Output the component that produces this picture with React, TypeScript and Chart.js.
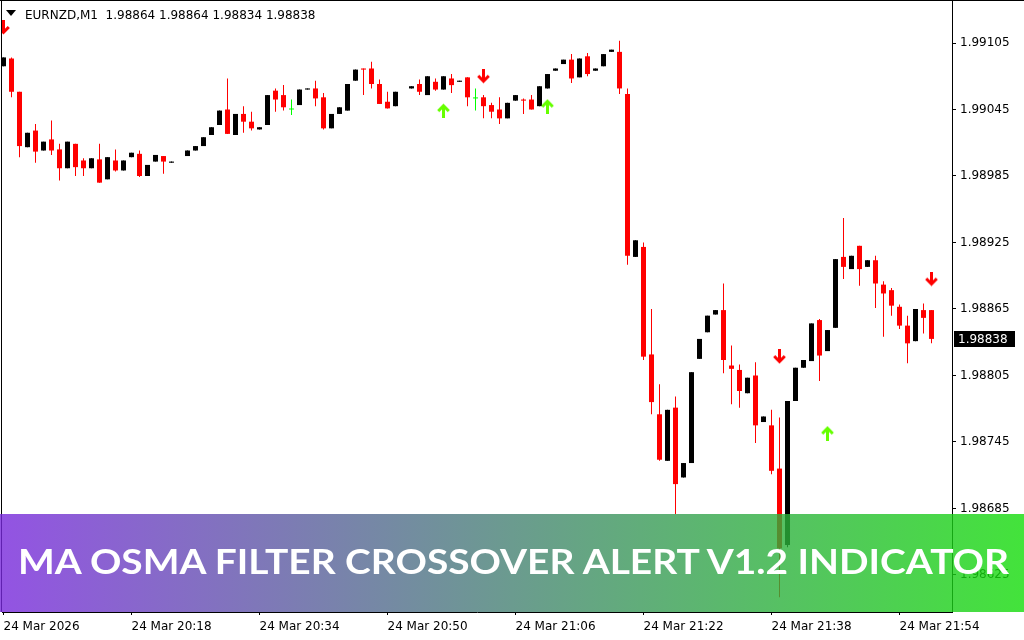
import React, { useEffect, useRef } from 'react';
import { Chart, registerables } from 'chart.js';

Chart.register(...registerables);

const symbolTitle = 'EURNZD,M1';
const headerValues = ['1.98864', '1.98864', '1.98834', '1.98838'];
const bannerText = 'MA OSMA FILTER CROSSOVER ALERT V1.2 INDICATOR';

const xTickIndex = [0, 16, 32, 48, 64, 80, 96, 112];
const xTickLabels = ['24 Mar 2026', '24 Mar 20:18', '24 Mar 20:34', '24 Mar 20:50', '24 Mar 21:06', '24 Mar 21:22', '24 Mar 21:38', '24 Mar 21:54'];
const yTicks = [1.99105, 1.99045, 1.98985, 1.98925, 1.98865, 1.98805, 1.98745, 1.98685, 1.98625];

const opens: (number | null)[] = [
  1.99084, 1.99091, 1.99061, 1.99011, 1.99026, 1.99008, 1.99018, 1.99009, 1.98992, 1.99014,
  1.98999, 1.98992, 1.99000, 1.98982, 1.98999, 1.98990, 1.99002, 1.99005, 1.98985, 1.98998,
  1.99003, 1.98997, null, 1.99003, 1.99008, 1.99012, 1.99022, 1.99031, 1.99045, 1.99022,
  1.99041, 1.99034, 1.99027, 1.99031, 1.99062, 1.99058, 1.99045, 1.99049, 1.99063, 1.99064,
  1.99056, 1.99028, 1.99041, 1.99044, 1.99071, 1.99082, 1.99082, 1.99068, 1.99052, 1.99048,
  null, 1.99064, 1.99068, 1.99058, 1.99070, 1.99063, 1.99073, 1.99070, 1.99074, 1.99055,
  1.99056, 1.99049, 1.99045, 1.99037, 1.99053, 1.99054, 1.99054, 1.99048, 1.99064, 1.99080,
  1.99086, 1.99090, 1.99074, 1.99093, 1.99080, 1.99084, 1.99097, 1.99097, 1.99059, 1.98912,
  1.98921, 1.98824, 1.98770, 1.98728, 1.98776, 1.98713, 1.98726, 1.98820, 1.98844, 1.98860,
  1.98864, 1.98814, 1.98810, 1.98789, 1.98805, 1.98763, 1.98760, 1.98721, 1.98652, 1.98782,
  1.98812, 1.98818, 1.98855, 1.98827, 1.98848, 1.98912, 1.98901, 1.98922, 1.98903, 1.98909,
  1.98887, 1.98882, 1.98867, 1.98850, 1.98836, 1.98864, 1.98864,
];
const highs: (number | null)[] = [
  1.99092, 1.99092, 1.99061, 1.99024, 1.99032, 1.99016, 1.99035, 1.99014, 1.99016, 1.99014,
  1.99001, 1.99001, 1.99014, 1.99002, 1.99009, 1.98999, 1.99006, 1.99008, 1.98995, 1.99004,
  1.99003, 1.98998, null, 1.99008, 1.99012, 1.99020, 1.99029, 1.99044, 1.99073, 1.99041,
  1.99048, 1.99043, 1.99029, 1.99058, 1.99064, 1.99067, 1.99054, 1.99063, 1.99064, 1.99071,
  1.99060, 1.99041, 1.99047, 1.99068, 1.99081, 1.99082, 1.99088, 1.99072, 1.99061, 1.99061,
  null, 1.99066, 1.99072, 1.99075, 1.99073, 1.99075, 1.99077, 1.99071, 1.99074, 1.99064,
  1.99058, 1.99051, 1.99056, 1.99051, 1.99058, 1.99055, 1.99058, 1.99066, 1.99077, 1.99082,
  1.99090, 1.99095, 1.99091, 1.99096, 1.99082, 1.99095, 1.99099, 1.99107, 1.99064, 1.98927,
  1.98925, 1.98865, 1.98797, 1.98774, 1.98786, 1.98726, 1.98808, 1.98838, 1.98859, 1.98864,
  1.98888, 1.98832, 1.98815, 1.98803, 1.98817, 1.98768, 1.98774, 1.98767, 1.98782, 1.98812,
  1.98819, 1.98852, 1.98856, 1.98846, 1.98910, 1.98947, 1.98913, 1.98922, 1.98909, 1.98913,
  1.98890, 1.98884, 1.98869, 1.98859, 1.98865, 1.98870, 1.98864,
];
const lows: (number | null)[] = [
  1.99084, 1.99056, 1.99002, 1.99011, 1.98997, 1.99008, 1.99004, 1.98981, 1.98992, 1.98985,
  1.98985, 1.98992, 1.98979, 1.98982, 1.98989, 1.98990, 1.99002, 1.98984, 1.98985, 1.98998,
  1.98987, 1.98997, null, 1.99003, 1.99008, 1.99012, 1.99022, 1.99031, 1.99023, 1.99022,
  1.99024, 1.99026, 1.99027, 1.99031, 1.99043, 1.99044, 1.99040, 1.99049, 1.99063, 1.99048,
  1.99027, 1.99028, 1.99041, 1.99044, 1.99071, 1.99058, 1.99064, 1.99050, 1.99046, 1.99048,
  null, 1.99064, 1.99058, 1.99058, 1.99062, 1.99063, 1.99060, 1.99070, 1.99048, 1.99044,
  1.99037, 1.99037, 1.99032, 1.99037, 1.99053, 1.99041, 1.99045, 1.99048, 1.99064, 1.99080,
  1.99086, 1.99069, 1.99074, 1.99075, 1.99080, 1.99084, 1.99097, 1.99059, 1.98905, 1.98912,
  1.98819, 1.98770, 1.98728, 1.98728, 1.98680, 1.98713, 1.98726, 1.98820, 1.98844, 1.98860,
  1.98807, 1.98779, 1.98776, 1.98789, 1.98744, 1.98763, 1.98716, 1.98605, 1.98650, 1.98782,
  1.98812, 1.98818, 1.98800, 1.98827, 1.98848, 1.98892, 1.98901, 1.98886, 1.98903, 1.98866,
  1.98840, 1.98859, 1.98847, 1.98816, 1.98836, 1.98843, 1.98834,
];
const closes: (number | null)[] = [
  1.99092, 1.99061, 1.99012, 1.99024, 1.99007, 1.99016, 1.99008, 1.98992, 1.99016, 1.98993,
  1.98992, 1.99001, 1.98979, 1.99002, 1.98990, 1.98999, 1.99006, 1.98985, 1.98995, 1.99004,
  1.98998, 1.98998, null, 1.99008, 1.99012, 1.99020, 1.99029, 1.99044, 1.99023, 1.99041,
  1.99034, 1.99028, 1.99029, 1.99058, 1.99054, 1.99047, 1.99045, 1.99063, 1.99064, 1.99055,
  1.99028, 1.99041, 1.99047, 1.99068, 1.99081, 1.99081, 1.99068, 1.99050, 1.99046, 1.99061,
  null, 1.99066, 1.99061, 1.99075, 1.99063, 1.99075, 1.99067, 1.99071, 1.99056, 1.99055,
  1.99048, 1.99043, 1.99037, 1.99051, 1.99058, 1.99053, 1.99045, 1.99066, 1.99077, 1.99082,
  1.99090, 1.99073, 1.99091, 1.99077, 1.99082, 1.99095, 1.99099, 1.99064, 1.98913, 1.98927,
  1.98822, 1.98781, 1.98729, 1.98774, 1.98707, 1.98726, 1.98808, 1.98838, 1.98859, 1.98864,
  1.98819, 1.98811, 1.98791, 1.98803, 1.98760, 1.98768, 1.98719, 1.98649, 1.98782, 1.98812,
  1.98819, 1.98852, 1.98823, 1.98846, 1.98910, 1.98903, 1.98913, 1.98901, 1.98909, 1.98888,
  1.98879, 1.98868, 1.98850, 1.98834, 1.98865, 1.98857, 1.98838,
];

const downArrowIndex = [0, 60, 97, 116];
const downArrowPrice = [1.99119, 1.99075, 1.98822, 1.98892];
const upArrowIndex = [55, 68, 103];
const upArrowPrice = [1.99044, 1.99048, 1.98753];

const FONT = "'DejaVu Sans', Verdana, sans-serif";

function makeArrow(color: string, down: boolean): HTMLCanvasElement {
  const c = document.createElement('canvas');
  c.width = 13;
  c.height = 15;
  const g = c.getContext('2d')!;
  g.strokeStyle = color;
  g.lineWidth = 3;
  g.lineCap = 'butt';
  g.lineJoin = 'miter';
  if (!down) {
    g.translate(0, 15);
    g.scale(1, -1);
  }
  g.beginPath();
  g.moveTo(6.5, 0);
  g.lineTo(6.5, 12.5);
  g.stroke();
  g.beginPath();
  g.moveTo(1.2, 7);
  g.lineTo(6.5, 12.3);
  g.lineTo(11.8, 7);
  g.stroke();
  return c;
}

export default function App() {
  const canvasRef = useRef<HTMLCanvasElement>(null);
  const bannerRef = useRef<HTMLSpanElement>(null);

  useEffect(() => {
    document.body.style.margin = '0';
    const canvas = canvasRef.current;
    if (!canvas) return;

    const idx = opens.map((_, i) => i).filter((i) => opens[i] !== null);
    const colorOf = (i: number) => {
      const o = opens[i] as number;
      const c = closes[i] as number;
      return c > o ? '#000000' : c < o ? '#FF0000' : '#00FF00';
    };
    const colors = idx.map(colorOf);
    const last = closes.length - 1;

    const frame = {
      id: 'frame',
      afterDraw(chart: any) {
        const ctx = chart.ctx;
        const a = chart.chartArea;
        ctx.save();
        ctx.strokeStyle = '#000';
        ctx.lineWidth = 1;
        ctx.beginPath();
        ctx.moveTo(a.left - 0.5, 0);
        ctx.lineTo(a.left - 0.5, a.bottom);
        ctx.moveTo(0, 0.5);
        ctx.lineTo(chart.width, 0.5);
        ctx.stroke();
        const y = chart.scales.y.getPixelForValue(closes[last] as number);
        ctx.fillStyle = '#000';
        ctx.fillRect(a.right + 2, Math.round(y) - 8, 61, 16);
        ctx.fillStyle = '#fff';
        ctx.font = `12px ${FONT}`;
        ctx.textBaseline = 'middle';
        ctx.textAlign = 'left';
        ctx.fillText((closes[last] as number).toFixed(5), a.right + 6, y + 0.5);
        ctx.restore();
      },
    };

    const chart = new Chart(canvas, {
      type: 'bar',
      data: {
        datasets: [
          {
            type: 'line',
            data: downArrowIndex.map((x, k) => ({ x, y: downArrowPrice[k] })),
            showLine: false,
            pointStyle: makeArrow('#FF0000', true) as any,
            pointRadius: 7,
            order: 0,
          } as any,
          {
            type: 'line',
            data: upArrowIndex.map((x, k) => ({ x, y: upArrowPrice[k] })),
            showLine: false,
            pointStyle: makeArrow('#66FF00', false) as any,
            pointRadius: 7,
            order: 0,
          } as any,
          {
            type: 'bar',
            data: idx.map((i) => ({ x: i, y: [opens[i], closes[i]] })),
            backgroundColor: colors,
            borderWidth: 0,
            barThickness: 5,
            minBarLength: 1,
            grouped: false,
            inflateAmount: 0,
            order: 1,
          } as any,
          {
            type: 'bar',
            data: idx.map((i) => ({ x: i, y: [lows[i], highs[i]] })),
            backgroundColor: colors,
            borderWidth: 0,
            barThickness: 1,
            minBarLength: 1,
            grouped: false,
            inflateAmount: 0,
            order: 2,
          } as any,
        ],
      },
      options: {
        animation: false,
        responsive: false,
        maintainAspectRatio: false,
        events: [],
        layout: { autoPadding: false, padding: { left: 2, top: 1, right: 0, bottom: 0 } },
        plugins: { legend: { display: false }, tooltip: { enabled: false } },
        scales: {
          x: {
            type: 'linear',
            min: -0.1875,
            max: 118.5625,
            offset: false,
            grid: { display: true, drawOnChartArea: false, drawTicks: true, tickLength: 3, color: '#000', offset: false },
            border: { display: true, color: '#000' },
            ticks: {
              align: 'start',
              autoSkip: false,
              maxRotation: 0,
              minRotation: 0,
              padding: 5,
              color: '#000',
              font: { family: FONT, size: 12 },
              callback: (v: any) => {
                const k = xTickIndex.indexOf(Number(v));
                return k >= 0 ? xTickLabels[k] : '';
              },
            },
            afterBuildTicks: (s: any) => {
              s.ticks = xTickIndex.map((v) => ({ value: v }));
            },
            afterFit: (s: any) => {
              s.height = 28;
              s.paddingLeft = 0;
              s.paddingRight = 0;
              s.paddingTop = 0;
              s.paddingBottom = 0;
            },
          } as any,
          y: {
            type: 'linear',
            position: 'right',
            min: 1.985916,
            max: 1.991429,
            grid: { display: true, drawOnChartArea: false, drawTicks: true, tickLength: 4, color: '#000' },
            border: { display: true, color: '#000' },
            ticks: {
              padding: 4,
              color: '#000',
              font: { family: FONT, size: 12 },
              callback: (v: any) => Number(v).toFixed(5),
            },
            afterBuildTicks: (s: any) => {
              s.ticks = yTicks.map((v) => ({ value: v }));
            },
            afterFit: (s: any) => {
              s.width = 72;
              s.paddingLeft = 0;
              s.paddingRight = 0;
              s.paddingTop = 0;
              s.paddingBottom = 0;
            },
          } as any,
        },
      },
      plugins: [frame],
    });

    const fit = () => {
      const span = bannerRef.current;
      if (!span) return;
      span.style.transform = 'none';
      const w = span.getBoundingClientRect().width;
      if (w > 0) span.style.transform = `scaleX(${991 / w})`;
    };
    fit();
    if ((document as any).fonts && (document as any).fonts.ready) {
      (document as any).fonts.ready.then(fit);
    }

    return () => chart.destroy();
  }, []);

  return (
    <div style={{ position: 'relative', width: 1024, height: 640, overflow: 'hidden', background: '#fff' }}>
      <canvas ref={canvasRef} width={1024} height={640} style={{ display: 'block', width: 1024, height: 640 }} />
      <div
        style={{
          position: 'absolute',
          left: 6,
          top: 10,
          width: 0,
          height: 0,
          borderLeft: '5px solid transparent',
          borderRight: '5px solid transparent',
          borderTop: '6px solid #000',
        }}
      />
      <div
        style={{
          position: 'absolute',
          left: 25,
          top: 8,
          fontFamily: FONT,
          fontSize: 12,
          lineHeight: '14px',
          color: '#000',
          whiteSpace: 'pre',
        }}
      >
        {symbolTitle + '  ' + headerValues.join(' ')}
      </div>
      <div
        style={{
          position: 'absolute',
          left: 0,
          top: 514,
          width: 1024,
          height: 98,
          background: 'linear-gradient(to right, rgba(120,40,220,0.8), rgba(20,220,10,0.8))',
        }}
      >
        <span
          ref={bannerRef}
          style={{
            position: 'absolute',
            left: 18,
            top: 24.5,
            fontFamily: "Lato, 'Open Sans', sans-serif",
            fontWeight: 700,
            fontSize: 35,
            lineHeight: '42px',
            color: '#fff',
            whiteSpace: 'pre',
            transformOrigin: 'left center',
          }}
        >
          {bannerText}
        </span>
      </div>
    </div>
  );
}
